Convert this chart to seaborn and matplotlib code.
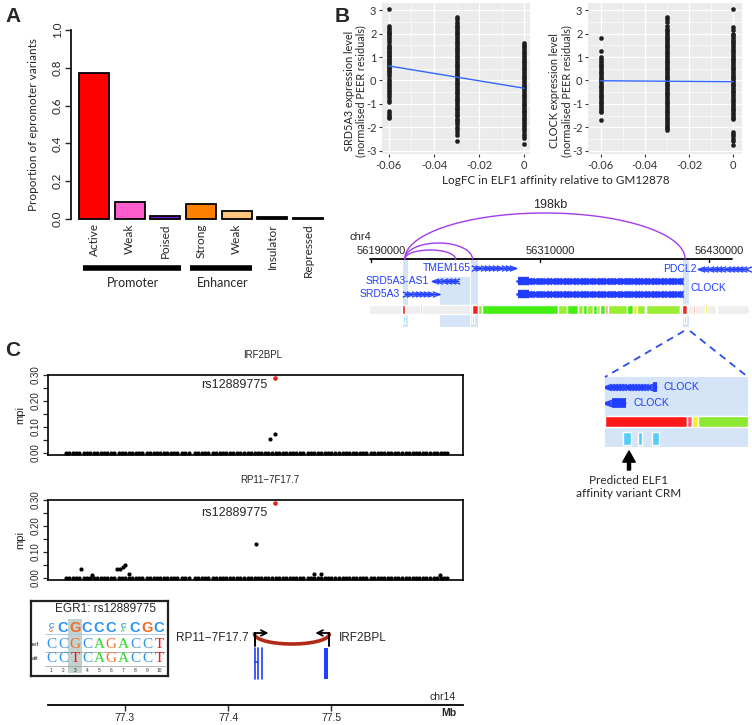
import numpy as np
import pandas as pd
import matplotlib.pyplot as plt
import seaborn as sns
from matplotlib.patches import Rectangle
from matplotlib.lines import Line2D

# ---------------- panel A data
state_keys = ['Active', 'Weak_p', 'Poised', 'Strong', 'Weak_e', 'Insulator', 'Repressed']
state_labels = ['Active', 'Weak', 'Poised', 'Strong', 'Weak', 'Insulator', 'Repressed']
state_props = [0.77, 0.09, 0.015, 0.077, 0.04, 0.011, 0.006]
state_colors = ['#FF0000', '#FF5CCD', '#7B1FD8', '#FF8000', '#FFC680', '#1A1A40', '#555555']
group_names = ['Promoter', 'Enhancer']
group_spans = [(0, 2), (3, 4)]

# ---------------- panel B scatter data
logfc_levels = [-0.06, -0.03, 0.0]
srd_m06 = [3.05, 2.33, 2.25, 2.15, 2.08, 2.02, 1.96, 1.88, 1.8, 1.72, 1.62, 1.5, 1.44, 1.38, 1.33, 1.27,
           1.21, 1.15, 1.1, 1.04, 0.98, 0.93, 0.87, 0.8, 0.74, 0.68, 0.61, 0.55, 0.49, 0.42, 0.35, 0.28,
           0.18, 0.05, -0.04, -0.12, -0.2, -0.29, -0.37, -0.45, -0.53, -0.62, -0.71, -0.85, -0.93,
           -1.32, -1.4, -1.47, -1.55, -1.6]
srd_m03 = [2.7, 2.62, 2.5, 2.42, 2.33, 2.26, 2.19, 2.11, 2.04, 1.96, 1.89, 1.81, 1.74, 1.66, 1.58, 1.51,
           1.43, 1.36, 1.28, 1.2, 1.13, 1.05, 0.98, 0.9, 0.83, 0.75, 0.67, 0.6, 0.52, 0.45, 0.37, 0.29,
           0.22, 0.14, 0.07, -0.01, -0.09, -0.16, -0.24, -0.31, -0.39, -0.47, -0.54, -0.62, -0.69, -0.77,
           -0.85, -0.92, -1.0, -1.07, -1.15, -1.22, -1.3, -1.38, -1.45, -1.52, -1.62, -1.7, -1.78, -1.86,
           -1.96, -2.05, -2.2, -2.3, -2.58]
srd_0 = [1.6, 1.53, 1.45, 1.38, 1.3, 1.23, 1.15, 1.07, 1.0, 0.92, 0.85, 0.77, 0.7, 0.62, 0.54, 0.47,
         0.39, 0.32, 0.24, 0.16, 0.09, 0.01, -0.06, -0.14, -0.22, -0.29, -0.37, -0.44, -0.52, -0.6, -0.67,
         -0.75, -0.82, -0.9, -0.98, -1.05, -1.13, -1.2, -1.28, -1.36, -1.43, -1.51, -1.58, -1.66, -1.74,
         -1.81, -1.89, -1.96, -2.05, -2.15, -2.28, -2.38, -2.44, -2.72]
clock_m06 = [1.82, 1.25, 1.02, 0.9, 0.83, 0.76, 0.68, 0.61, 0.53, 0.46, 0.38, 0.31, 0.23, 0.16, 0.08,
             0.01, -0.07, -0.14, -0.22, -0.29, -0.37, -0.45, -0.52, -0.6, -0.67, -0.75, -0.82, -0.9,
             -0.97, -1.05, -1.12, -1.2, -1.28, -1.36, -1.7]
clock_m03 = [2.72, 2.63, 2.5, 2.32, 2.21, 2.13, 2.06, 1.98, 1.91, 1.83, 1.75, 1.68, 1.6, 1.53, 1.45,
             1.38, 1.3, 1.22, 1.15, 1.07, 1.0, 0.92, 0.85, 0.77, 0.69, 0.62, 0.54, 0.47, 0.39, 0.32,
             0.24, 0.16, 0.09, 0.01, -0.06, -0.14, -0.21, -0.29, -0.37, -0.44, -0.52, -0.59, -0.67,
             -0.75, -0.82, -0.9, -0.97, -1.05, -1.12, -1.2, -1.28, -1.35, -1.43, -1.5, -1.58, -1.66,
             -1.73, -1.81, -1.88, -1.96, -2.04, -2.1]
clock_0 = [3.05, 2.26, 2.13, 2.0, 1.92, 1.84, 1.77, 1.69, 1.62, 1.54, 1.46, 1.39, 1.31, 1.24, 1.16,
           1.08, 1.01, 0.93, 0.86, 0.78, 0.7, 0.63, 0.55, 0.48, 0.4, 0.32, 0.25, 0.17, 0.1, 0.02, -0.06,
           -0.13, -0.21, -0.28, -0.36, -0.44, -0.51, -0.59, -0.66, -0.74, -0.82, -0.89, -0.97, -1.04,
           -1.12, -1.2, -1.27, -1.35, -1.42, -1.5, -1.58, -1.65, -2.18, -2.27, -2.37, -2.47, -2.56, -2.75]
fit_x = [-0.06, 0.0]
srd_fit = [0.62, -0.33]
clock_fit = [-0.01, -0.05]

# ---------------- panel B genome track (kb on chr4)
chr4_ticks = [56190, 56310, 56430]
loop_start = [56214, 56214, 56214]
loop_end = [56413, 56262, 56250]
gene_names = ['SRD5A3', 'SRD5A3-AS1', 'TMEM165', 'CLOCK', 'CLOCK', 'PDCL2']
gene_start = [56213.4, 56234.0, 56262.4, 56294.4, 56294.4, 56422.9]
gene_end = [56239.0, 56252.5, 56292.3, 56411.5, 56411.5, 56458.0]
gene_strand = ['+', '-', '+', '-', '-', '-']
hl_start = [56212.7, 56239.0, 56261.0, 56411.5]
hl_end = [56216.3, 56260.3, 56266.0, 56415.8]
state_seg = [(56211.3, 56212.0, '#FFA500'), (56212.0, 56214.1, '#F5231A'), (56224.8, 56226.2, '#FFB347'),
             (56260.3, 56261.7, '#FFEE00'), (56261.7, 56266.0, '#F5231A'), (56266.0, 56268.8, '#8CEB3C'),
             (56268.8, 56322.8, '#44EE11'), (56322.8, 56329.2, '#99EE33'), (56329.2, 56337.0, '#44EE11'),
             (56337.0, 56340.5, '#99EE33'), (56340.5, 56343.4, '#44EE11'), (56343.4, 56347.6, '#99EE33'),
             (56347.6, 56350.5, '#44EE11'), (56350.5, 56352.6, '#99EE33'), (56352.6, 56356.2, '#44EE11'),
             (56356.2, 56358.3, '#F0A070'), (56358.3, 56371.8, '#99EE33'), (56371.8, 56376.0, '#44EE11'),
             (56376.0, 56378.9, '#EEEE22'), (56378.9, 56384.6, '#99EE33'), (56384.6, 56385.3, '#FF9966'),
             (56385.3, 56409.4, '#99EE33'), (56409.4, 56410.8, '#EEEE22'), (56410.8, 56414.4, '#F5231A'),
             (56414.4, 56415.1, '#FF7070'), (56418.6, 56420.1, '#FF9966'), (56427.2, 56428.6, '#EEEE00'),
             (56435.0, 56435.7, '#EEEE44')]
crm_seg = [(56212.7, 56214.1), (56261.7, 56263.1), (56412.2, 56413.7)]

# zoomed CRM (fraction of the zoom window)
zoom_state = [(0.0, 0.573, '#FF1A1A'), (0.573, 0.608, '#FF5A7A'), (0.608, 0.65, '#F2F21A'), (0.65, 1.0, '#8CE832')]
zoom_crm = [(0.126, 0.18), (0.231, 0.259), (0.329, 0.378)]

# ---------------- panel C data (Mb on chr14)
mpi_bg_pos = [77.243, 77.246, 77.250, 77.253, 77.256, 77.260, 77.263, 77.266, 77.270, 77.273, 77.277,
              77.280, 77.283, 77.287, 77.290, 77.294, 77.297, 77.300, 77.304, 77.307, 77.311, 77.314,
              77.317, 77.321, 77.324, 77.328, 77.331, 77.334, 77.338, 77.341, 77.345, 77.348, 77.351,
              77.355, 77.358, 77.362, 77.368, 77.371, 77.375, 77.378, 77.381, 77.385, 77.388, 77.392,
              77.395, 77.398, 77.402, 77.405, 77.409, 77.412, 77.415, 77.419, 77.422, 77.426, 77.429,
              77.432, 77.436, 77.439, 77.443, 77.446, 77.449, 77.453, 77.456, 77.460, 77.463, 77.466,
              77.470, 77.473, 77.477, 77.480, 77.483, 77.487, 77.490, 77.494, 77.497, 77.500, 77.504,
              77.507, 77.511, 77.514, 77.517, 77.521, 77.524, 77.528, 77.531, 77.534, 77.538, 77.541,
              77.545, 77.548, 77.551, 77.555, 77.558, 77.562, 77.565, 77.568, 77.572, 77.575, 77.579,
              77.582, 77.585, 77.589, 77.592, 77.596, 77.599, 77.602, 77.606, 77.609, 77.612]
irf_hi_pos = [77.4405, 77.4455]
irf_hi_mpi = [0.053, 0.072]
rp11_hi_pos = [77.2575, 77.268, 77.2923, 77.2952, 77.2981, 77.300, 77.304, 77.4275, 77.4836, 77.490, 77.6053]
rp11_hi_mpi = [0.035, 0.012, 0.033, 0.035, 0.043, 0.05, 0.015, 0.131, 0.015, 0.015, 0.012]
lead_snp = 'rs12889775'
lead_pos = 77.445
lead_mpi = {'IRF2BPL': 0.288, 'RP11−7F17.7': 0.287}
tss_pos = [77.4256, 77.498]
tss_dir = [1, -1]
tss_names = ['RP11−7F17.7', 'IRF2BPL']
rp11_exons = [77.4262, 77.4293, 77.4324]
irf_exon = (77.4930, 77.4972)

motif_name = 'EGR1: rs12889775'
logo_top = 'cCGCCCcCGC'
logo_sub = ['g', '', '', '', '', '', 'a', '', '', '']
ref_seq = 'CCGCAGACCT'
alt_seq = 'CCTCAGACCT'
snp_index = 3
base_colors = {'A': '#2FD62F', 'C': '#2F93EC', 'G': '#F26A24', 'T': '#EE1B1B'}

W, H = 752, 725
BLUE = '#213DFF'

sns.set_style('white')
plt.rcParams['font.family'] = ['Liberation Sans', 'DejaVu Sans']
plt.rcParams['axes.unicode_minus'] = False

fig = plt.figure(figsize=(W / 100, H / 100), dpi=100)


def box(l, t, r, b):
    return [l / W, 1 - b / H, (r - l) / W, (b - t) / H]


def fpt(px, py):
    return px / W, 1 - py / H


for lab, (px, py) in zip('ABC', [(5, 17), (335, 17), (5, 351)]):
    fig.text(*fpt(px, py), lab, fontsize=15, fontweight='bold', ha='left', va='center')

# ================= panel A
axA = fig.add_axes(box(71, 30, 330, 219))
dfA = pd.DataFrame({'state': state_keys, 'prop': state_props})
sns.barplot(data=dfA, x='state', y='prop', hue='state', order=state_keys,
            palette=dict(zip(state_keys, state_colors)), width=0.84, saturation=1,
            edgecolor='black', linewidth=1.3, legend=False, ax=axA)
for p in axA.patches:
    p.set_clip_on(False)
axA.set_xlim(-0.645, 6.615)
axA.set_ylim(0, 1)
axA.set_yticks(np.arange(0, 1.01, 0.2))
axA.set_yticklabels([f'{v:.1f}' for v in np.arange(0, 1.01, 0.2)], rotation=90, va='center',
                    fontsize=8.5, family='Lato')
axA.tick_params(axis='y', length=4, width=1, pad=2, left=True)
axA.set_xticks(range(len(state_labels)))
axA.set_xticklabels(state_labels, rotation=90, fontsize=8.5, family='Lato')
axA.tick_params(axis='x', length=0, pad=3)
for s in ['top', 'right', 'bottom']:
    axA.spines[s].set_visible(False)
axA.spines['left'].set_linewidth(1.2)
axA.spines['left'].set_color('black')
axA.set_xlabel('')
axA.set_ylabel('Proportion of epromoter variants', fontsize=8.5, family='Lato')
axA.yaxis.set_label_coords(-0.125, 0.5)
trA = axA.get_xaxis_transform()
for name, (a, b) in zip(group_names, group_spans):
    axA.plot([a - 0.31, b + 0.44], [-0.259, -0.259], transform=trA, color='black', lw=4,
             clip_on=False, solid_capstyle='butt')
    axA.text((a + b) / 2 + 0.1, -0.34, name, transform=trA, ha='center', va='center',
             fontsize=9, family='Lato')

# ================= panel B scatter
def expr_frame(groups):
    rows = []
    for x, ys in zip(logfc_levels, groups):
        rows += [(x, y) for y in ys]
    return pd.DataFrame(rows, columns=['logfc', 'expr'])


scatter_specs = [
    (box(382, 3, 530, 154), expr_frame([srd_m06, srd_m03, srd_0]), srd_fit, 'SRD5A3', (-0.063, 0.0025)),
    (box(588, 3, 742, 154), expr_frame([clock_m06, clock_m03, clock_0]), clock_fit, 'CLOCK', (-0.0657, 0.0039)),
]
for rect, df, fit, gene, xl in scatter_specs:
    ax = fig.add_axes(rect)
    ax.set_facecolor('#EBEBEB')
    ax.set_axisbelow(True)
    sns.scatterplot(data=df, x='logfc', y='expr', ax=ax, color='#1E1E1E', s=9,
                    edgecolor='#1E1E1E', linewidth=0.3, zorder=3)
    sns.lineplot(x=fit_x, y=fit, ax=ax, color='#3366FF', lw=1, zorder=4)
    ax.set_xlim(*xl)
    ax.set_ylim(-3.13, 3.3)
    ax.set_xticks([-0.06, -0.04, -0.02, 0])
    ax.set_xticklabels(['-0.06', '-0.04', '-0.02', '0'])
    ax.set_xticks([-0.05, -0.03, -0.01], minor=True)
    ax.set_yticks(range(-3, 4))
    ax.set_yticks(np.arange(-2.5, 3.0, 1.0), minor=True)
    ax.grid(True, which='major', color='white', lw=0.9)
    ax.grid(True, which='minor', color='white', lw=0.4)
    for s in ax.spines.values():
        s.set_visible(False)
    ax.tick_params(which='major', length=2.5, width=0.8, color='#333333', labelsize=8,
                   labelcolor='#333333', pad=1.5, left=True, bottom=True)
    ax.tick_params(which='minor', length=0)
    for t in ax.get_xticklabels() + ax.get_yticklabels():
        t.set_family('Lato')
    ax.set_xlabel('')
    ax.set_ylabel(f'{gene} expression level\n(normalised PEER residuals)', fontsize=7.8,
                  family='Lato', linespacing=1.1)
    ax.yaxis.set_label_coords(-0.105, 0.42)
fig.text(*fpt(556, 181), 'LogFC in ELF1 affinity relative to GM12878', ha='center', va='center',
         fontsize=8.5, family='Lato')

# ================= panel B genome track
axG = fig.add_axes(box(340, 195, 752, 330))
axG.set_xlim(56168.0, 56460.5)
axG.set_ylim(330, 195)
axG.axis('off')
for s0, s1, top in zip(hl_start, hl_end, [258, 277, 258, 258]):
    axG.add_patch(Rectangle((s0, top), s1 - s0, 327 - top, color='#D5E5F7', lw=0, zorder=0))
axG.plot([56189.3, 56446.3], [259, 259], color='black', lw=1.3)
for t in chr4_ticks:
    axG.plot([t, t], [259, 262], color='black', lw=1)
    axG.text(t + 7, 251, str(t * 1000), ha='center', va='center', fontsize=8)
axG.text(56174.4, 237, 'chr4', ha='left', va='center', fontsize=8)
tt = np.linspace(0, np.pi, 80)
for s0, s1, h in zip(loop_start, loop_end, [46, 16, 9]):
    axG.plot((s0 + s1) / 2 + (s1 - s0) / 2 * np.cos(tt), 259 - h * np.sin(tt), color='#A43CEB', lw=1)
axG.text(56317, 205, f'{loop_end[0] - loop_start[0] - 1}kb', ha='center', va='center', fontsize=9)

gene_rows = [294, 281, 268, 281, 294, 269]
gene_heavy = [False, False, False, True, True, False]
for name, g0, g1, strand, y, heavy in zip(gene_names, gene_start, gene_end, gene_strand, gene_rows, gene_heavy):
    axG.plot([g0, g1], [y, y], color=BLUE, lw=3.5 if heavy else 1.0, solid_capstyle='butt')
    xs = np.arange(g0 + 1.5, g1 - 0.5, 2.4 if heavy else 3.0)
    axG.plot(xs, [y] * len(xs), ls='none', marker='$>$' if strand == '+' else '$<$',
             ms=6 if heavy else 5, color=BLUE, mew=0.3)
    if heavy:
        axG.plot([g0, g0 + 8], [y, y], color=BLUE, lw=6, solid_capstyle='butt')
label_pos = [(56210.6, 294, 'right'), (56231.2, 281, 'right'), (56261.0, 268, 'right'),
             (56416.5, 288, 'left'), None, (56421.5, 269, 'right')]
for name, lp in zip(gene_names, label_pos):
    if lp is None:
        continue
    axG.text(lp[0], lp[1], name, ha=lp[2], va='center', fontsize=7.5, color=BLUE)
axG.broken_barh([(56188.6, 56458.4 - 56188.6)], (305, 9), facecolors='#EEEEEE')
for s0, s1, c in state_seg:
    axG.broken_barh([(s0, s1 - s0)], (305, 9), facecolors=c)
for s0, s1 in crm_seg:
    axG.broken_barh([(s0, s1 - s0)], (316, 7), facecolors='#5BCDF5')

for x0, x1 in [(684, 605), (690, 748)]:
    fig.add_artist(Line2D([x0 / W, x1 / W], [1 - 331 / H, 1 - 377 / H], ls=(0, (4, 3)),
                          color='#2B4BEE', lw=1.3))

axZ = fig.add_axes(box(605, 377, 748, 447))
axZ.set_facecolor('#D5E5F7')
axZ.set_xlim(0, 1)
axZ.set_ylim(1, 0)
axZ.set_xticks([])
axZ.set_yticks([])
for s in axZ.spines.values():
    s.set_visible(False)
for (z0, z1), (k0, k1), y, lx in zip([(0, 0.364), (0, 0.147)], [(0.335, 0.364), (0.05, 0.147)],
                                     [0.14, 0.37], [0.406, 0.196]):
    axZ.plot([z0, z1], [y, y], color=BLUE, lw=1, solid_capstyle='butt')
    xs = np.arange(z0 + 0.012, k0, 0.022)
    axZ.plot(xs, [y] * len(xs), ls='none', marker='$<$', ms=6, color=BLUE, mew=0.3)
    axZ.plot([k0, k1], [y, y], color=BLUE, lw=7, solid_capstyle='butt')
    axZ.text(lx, y, 'CLOCK', ha='left', va='center', fontsize=7.5, color=BLUE)
for z0, z1, c in zoom_state:
    axZ.broken_barh([(z0, z1 - z0)], (0.56, 0.15), facecolors=c)
for z0, z1 in zoom_crm:
    axZ.broken_barh([(z0, z1 - z0)], (0.79, 0.18), facecolors='#55CCF5')
fig.add_artist(plt.Annotation('', xy=fpt(629, 451), xycoords='figure fraction',
                              xytext=fpt(629, 470), textcoords='figure fraction',
                              arrowprops=dict(width=2.2, headwidth=9, headlength=8, color='black')))
fig.text(*fpt(629, 487), 'Predicted ELF1\naffinity variant CRM', ha='center', va='center',
         fontsize=8.5, family='Lato', linespacing=1.2)

# ================= panel C
XL = (77.2256, 77.6275)
mpi_specs = [('IRF2BPL', box(48, 375, 463, 455), irf_hi_pos, irf_hi_mpi, 0.518, (-5, -5)),
             ('RP11−7F17.7', box(48, 500, 463, 580), rp11_hi_pos, rp11_hi_mpi, 0.535, (-5, -7))]
for gene, rect, hp, hm, tx, off in mpi_specs:
    ax = fig.add_axes(rect)
    sns.scatterplot(x=mpi_bg_pos, y=[0.0] * len(mpi_bg_pos), ax=ax, color='black', s=9, linewidth=0)
    sns.scatterplot(x=hp, y=hm, ax=ax, color='black', s=9, linewidth=0)
    sns.scatterplot(x=[lead_pos], y=[lead_mpi[gene]], ax=ax, color='#E8221B', s=11, linewidth=0)
    ax.annotate(lead_snp, xy=(lead_pos, lead_mpi[gene]), xytext=off, textcoords='offset points',
                ha='right', va='center', fontsize=9)
    ax.set_xlim(*XL)
    ax.set_ylim(-0.008, 0.30)
    ax.set_xticks([])
    yt = np.round(np.arange(0, 0.301, 0.05), 2)
    ax.set_yticks(yt)
    ax.set_yticklabels([f'{v:.2f}' if round(v * 100) % 10 == 0 else '' for v in yt],
                       rotation=90, va='center', fontsize=7)
    ax.tick_params(axis='y', length=3.5, width=0.9, pad=2, left=True)
    for s in ax.spines.values():
        s.set_linewidth(1.2)
        s.set_color('black')
    ax.set_ylabel('mpi', fontsize=8)
    ax.yaxis.set_label_coords(-0.055, 0.5)
    ax.text(tx, 1.25, gene, transform=ax.transAxes, ha='center', va='center', fontsize=7)

axT = fig.add_axes(box(48, 595, 463, 705))
axT.set_xlim(*XL)
axT.set_ylim(705, 595)
for s in ['top', 'left', 'right']:
    axT.spines[s].set_visible(False)
axT.spines['bottom'].set_linewidth(1.3)
axT.spines['bottom'].set_color('black')
axT.set_yticks([])
axT.set_xticks([77.3, 77.4, 77.5])
axT.set_xticklabels(['77.3', '77.4', '77.5'], fontsize=7.5)
axT.tick_params(axis='x', length=4, width=1, pad=2, bottom=True)
axT.text(77.620, 697, 'chr14', ha='right', va='center', fontsize=7.5)
axT.text(77.621, 713, 'Mb', ha='right', va='center', fontsize=7.5, fontweight='bold', clip_on=False)
t0, t1 = tss_pos
axT.plot((t0 + t1) / 2 + (t1 - t0) / 2 * np.cos(tt), 634 + 10 * np.sin(tt), color='#B22A17', lw=2.6)
for x, d, name in zip(tss_pos, tss_dir, tss_names):
    axT.plot([x, x], [646, 633], color='black', lw=1.4)
    axT.annotate('', xy=(x + d * 0.0135, 633), xytext=(x, 633),
                 arrowprops=dict(arrowstyle='->', lw=1.3, color='black', shrinkA=0, shrinkB=0))
    if d > 0:
        axT.text(x - 0.006, 638, name, ha='right', va='center', fontsize=8.5)
    else:
        axT.text(x + 0.009, 638, name, ha='left', va='center', fontsize=8.5)
for x in rp11_exons:
    axT.plot([x, x], [648, 679], color=BLUE, lw=1.2)
axT.plot([rp11_exons[0], rp11_exons[1]], [662, 662], color=BLUE, lw=1.2)
axT.add_patch(Rectangle((irf_exon[0], 648), irf_exon[1] - irf_exon[0], 31, color=BLUE, lw=0))

# motif box
axM = fig.add_axes(box(31, 601, 168, 676))
axM.set_xlim(-0.667, 10.75)
axM.set_ylim(676, 601)
axM.set_xticks([])
axM.set_yticks([])
for s in axM.spines.values():
    s.set_linewidth(1.6)
    s.set_color('#222222')
axM.add_patch(Rectangle((snp_index - 0.55, 619), 1.1, 54, color='#C2D3CF', lw=0, zorder=0))
axM.text(5.5, 609, motif_name, ha='center', va='center', fontsize=8.5)
for i, (ch, sub) in enumerate(zip(logo_top, logo_sub), start=1):
    col = base_colors[ch.upper()]
    if ch.isupper():
        axM.text(i, 628, ch, ha='center', va='center', fontsize=10.5, fontweight='bold', color=col)
    else:
        axM.text(i, 626, 'C', ha='center', va='center', fontsize=5.5, fontweight='bold', color=col)
        if sub:
            axM.text(i, 631, sub.upper(), ha='center', va='center', fontsize=3.5, fontweight='bold',
                     color=base_colors[sub.upper()])
axM.plot([0.5, 10.5], [634, 634], color='#A9C8F0', lw=0.6)
for seq, y, tag in [(ref_seq, 645, 'ref'), (alt_seq, 659, 'alt')]:
    for i, ch in enumerate(seq, start=1):
        axM.text(i, y, ch, ha='center', va='center', fontsize=11, color=base_colors[ch],
                 family='Liberation Serif')
    axM.plot([0.5, 10.5], [y + 7, y + 7], color='#999999', lw=0.5)
    axM.text(-0.3, y, tag, ha='center', va='center', fontsize=4.5)
for i in range(1, 11):
    axM.text(i, 670, str(i), ha='center', va='center', fontsize=3.5)

fig.savefig('out.png', dpi=100)
